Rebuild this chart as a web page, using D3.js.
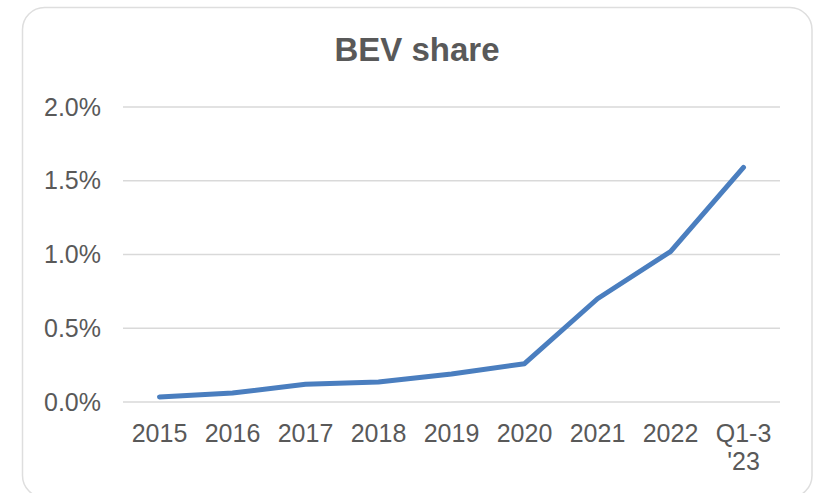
<!DOCTYPE html>
<html><head><meta charset="utf-8">
<script src="https://cdn.jsdelivr.net/npm/d3@7"></script>
<style>body{margin:0;background:#fff;} svg{display:block;}</style>
</head><body>
<svg id="c" width="815" height="493"></svg>
<script>
const categories = ["2015","2016","2017","2018","2019","2020","2021","2022","Q1-3\n'23"];
const bevShare = [0.034,0.061,0.12,0.135,0.19,0.26,0.70,1.02,1.59];
const yTicks = [0,0.5,1.0,1.5,2.0];
const title = "BEV share";

const svg = d3.select("#c");
const font = "'Liberation Sans', Arial, sans-serif";
const grey = "#595959";

svg.append("rect").attr("x",22.5).attr("y",7.5).attr("width",789.5).attr("height",490)
  .attr("rx",22).attr("fill","#fff").attr("stroke","#dedede").attr("stroke-width",1.5);

svg.append("text").attr("x",417).attr("y",61).attr("text-anchor","middle")
  .attr("font-family",font).attr("font-weight","bold").attr("font-size",33)
  .attr("fill",grey).text(title);

const x = d3.scaleBand().domain(categories).range([123,780]);
const y = d3.scaleLinear().domain([0,2]).range([402,107]);

const grid = svg.append("g");
grid.selectAll("line").data(yTicks).join("line")
  .attr("x1",123).attr("x2",780)
  .attr("y1",d=>y(d)).attr("y2",d=>y(d))
  .attr("stroke","#d9d9d9").attr("stroke-width",1.5);

const yAxis = svg.append("g").attr("transform","translate(123,0)")
  .call(d3.axisLeft(y).tickValues(yTicks).tickFormat(d=>d.toFixed(1)+"%").tickSize(0).tickPadding(22));
yAxis.select(".domain").remove();
yAxis.selectAll("text").attr("font-family",font).attr("font-size",25).attr("fill",grey);

const xAxis = svg.append("g").attr("transform","translate(0,402)")
  .call(d3.axisBottom(x).tickSize(0).tickPadding(0).tickFormat(""));
xAxis.select(".domain").remove();
xAxis.selectAll(".tick").each(function(d){
  const lines = d.split("\n");
  const t = d3.select(this).append("text").attr("font-family",font).attr("font-size",25)
    .attr("fill",grey).attr("text-anchor","middle");
  lines.forEach((l,i)=>t.append("tspan").attr("x",0).attr("y",40+i*28).text(l));
});

const line = d3.line().x((d,i)=>x(categories[i])+x.bandwidth()/2).y(d=>y(d));
svg.append("path").datum(bevShare).attr("d",line).attr("fill","none")
  .attr("stroke","#4a7ebf").attr("stroke-width",5).attr("stroke-linejoin","round").attr("stroke-linecap","round");
</script>
</body></html>
